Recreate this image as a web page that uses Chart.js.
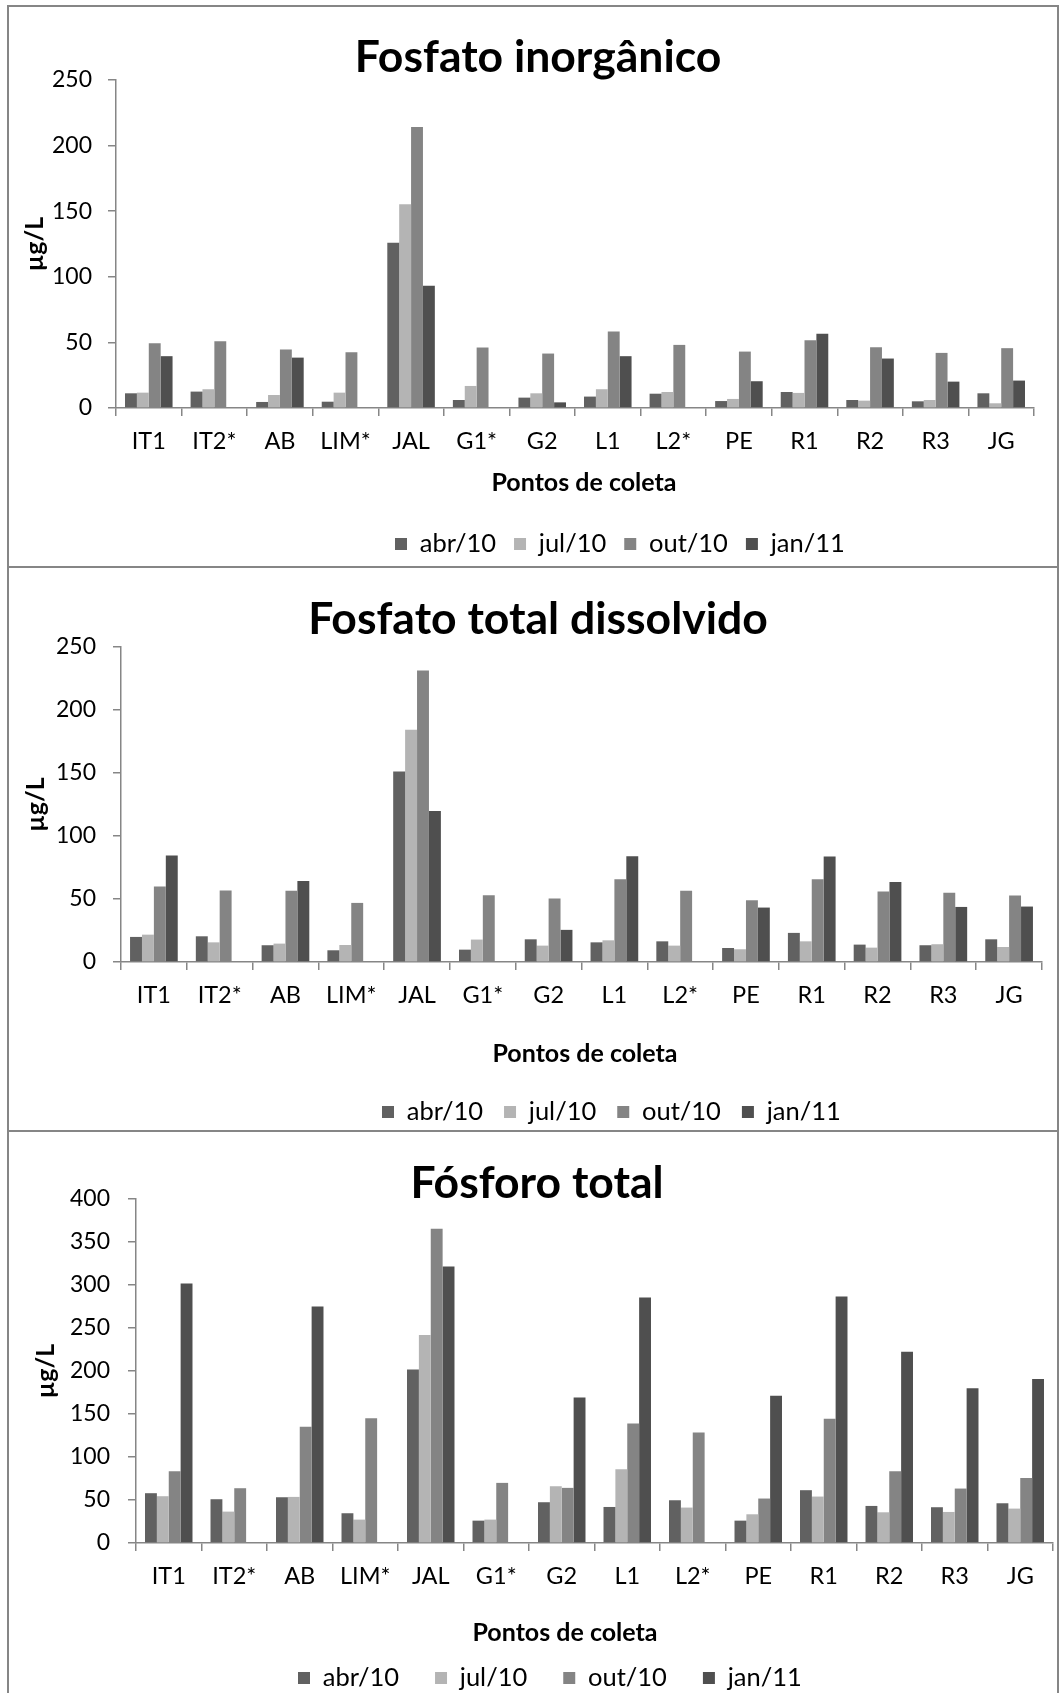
<!DOCTYPE html>
<html>
<head>
<meta charset="utf-8">
<script src="https://cdn.jsdelivr.net/npm/chart.js@4.4.1/dist/chart.umd.min.js"></script>
<style>
  html, body { margin: 0; padding: 0; background: #fff; }
  body { width: 1059px; height: 1693px; position: relative; overflow: hidden; }
  .painel { position: absolute; box-sizing: border-box; border: 2px solid #868686; background: #fff; }
  .painel canvas { position: absolute; left: 0; top: 0; }
</style>
</head>
<body>
<div class="painel" style="left:7px; top:5px; width:1052px; height:563px;">
  <canvas id="graf1" width="1048" height="559"></canvas>
</div>
<div class="painel" style="left:7px; top:566px; width:1052px; height:566px;">
  <canvas id="graf2" width="1048" height="562"></canvas>
</div>
<div class="painel" style="left:7px; top:1130px; width:1052px; height:575px;">
  <canvas id="graf3" width="1048" height="571"></canvas>
</div>
<script>
// Pontos de coleta e campanhas
const pontos = ['IT1', 'IT2*', 'AB', 'LIM*', 'JAL', 'G1*', 'G2', 'L1', 'L2*', 'PE', 'R1', 'R2', 'R3', 'JG'];
const campanhas = ['abr/10', 'jul/10', 'out/10', 'jan/11'];

// Fosfato inorgânico (µg/L)
const inorgAbr10 = [11.2, 12.5, 4.6, 4.8, 126.0, 6.1, 7.9, 8.7, 10.9, 5.3, 12.2, 6.1, 5.1, 11.2];
const inorgJul10 = [11.7, 14.3, 9.9, 11.7, 155.3, 16.8, 11.2, 14.3, 12.2, 6.9, 11.5, 5.6, 6.1, 3.6];
const inorgOut10 = [49.4, 50.9, 44.6, 42.5, 214.1, 46.1, 41.5, 58.3, 48.1, 43.0, 51.7, 46.3, 42.0, 45.6];
const inorgJan11 = [39.5, null, 38.4, null, 93.2, null, 4.3, 39.5, null, 20.4, 56.5, 37.7, 20.1, 20.9];

// Fosfato total dissolvido (µg/L)
const dissAbr10 = [19.9, 20.4, 13.3, 9.3, 151.1, 9.8, 18.0, 15.6, 16.4, 11.1, 23.1, 13.8, 13.3, 18.0];
const dissJul10 = [21.7, 15.6, 14.6, 13.5, 184.3, 17.8, 13.0, 17.2, 13.0, 10.1, 16.4, 11.4, 14.1, 11.9];
const dissOut10 = [59.9, 56.7, 56.5, 46.9, 231.4, 53.0, 50.4, 65.7, 56.5, 49.0, 65.7, 55.9, 54.9, 52.8];
const dissJan11 = [84.6, null, 64.2, null, 119.8, null, 25.5, 84.0, null, 43.2, 83.8, 63.4, 43.7, 44.0];

// Fósforo total (µg/L)
const ptAbr10 = [57.9, 50.9, 53.2, 34.6, 201.6, 26.0, 47.4, 41.9, 49.7, 26.0, 61.4, 43.1, 41.6, 46.2];
const ptJul10 = [54.4, 36.5, 53.6, 27.2, 241.9, 27.2, 66.0, 85.8, 41.2, 33.4, 54.0, 35.7, 36.1, 40.0];
const ptOut10 = [83.5, 63.7, 135.1, 145.2, 365.4, 69.9, 64.1, 139.0, 128.5, 51.7, 144.5, 83.5, 63.3, 75.7];
const ptJan11 = [301.7, null, 275.0, null, 321.6, null, 169.3, 285.4, null, 171.3, 286.6, 222.5, 179.8, 190.7];

const FONTE = "Lato, 'Open Sans', 'DejaVu Sans', sans-serif";
const CINZA_EIXO = '#868686';
const coresCampanha = ['#616161', '#b4b4b4', '#848484', '#4f4f4f'];

// Places the title, legend row and x-axis title at fixed spots inside each canvas
const posicionador = {
  id: 'posicionador',
  beforeDraw(chart, args, o) {
    const W = chart.width;
    const t = chart.titleBlock;
    if (t) {
      const lh = o.titleSize * 1.2;
      t.left = o.titleX - W / 2; t.right = o.titleX + W / 2;
      t.top = o.titleY - lh / 2; t.bottom = t.top + lh;
    }
    const lg = chart.legend;
    if (lg) {
      const pad = lg.options.labels.padding;
      const fs = lg.options.labels.font.size;
      const h = lg.height;
      lg.left = o.legendX - pad; lg.right = lg.left + W;
      lg.top = o.legendY - pad - fs / 2; lg.bottom = lg.top + h;
    }
    const xs = chart.scales.x;
    if (xs && !xs.__deslocado) {
      const original = xs.drawTitle;
      xs.drawTitle = function () {
        const dx = o.xTitleX - (this.left + this.right) / 2;
        this.left += dx; this.right += dx;
        original.call(this);
        this.left -= dx; this.right -= dx;
      };
      xs.__deslocado = true;
    }
  }
};

function desenharPainel(id, titulo, series, yMax, p) {
  const canvas = document.getElementById(id);
  const W = canvas.width, H = canvas.height;
  const tickSize = 23.5;
  const axisTitleSize = p.axisTitleSize;
  const legendSize = p.legendSize;
  const legendH = legendSize + p.legendPad + 10;
  const xAxisH = H - p.plotB - legendH;
  const axisLH = axisTitleSize * 1.2;
  const xTitlePB = H - legendH - axisLH / 2 - p.xTitleY;
  const xTickPad = p.xLabelY - p.plotB - 8 - (tickSize * 1.2) / 2;
  const titleLH = p.titleSize * 1.2;

  new Chart(canvas, {
    type: 'bar',
    data: {
      labels: pontos,
      datasets: campanhas.map((c, i) => ({
        label: c,
        data: series[i],
        backgroundColor: coresCampanha[i],
        borderWidth: 0,
        categoryPercentage: 0.725,
        barPercentage: 1.0
      }))
    },
    options: {
      responsive: false,
      animation: false,
      events: [],
      layout: { padding: { left: 0, right: W - p.plotR, top: p.plotT - titleLH, bottom: 0 } },
      plugins: {
        title: {
          display: true, text: titulo, color: '#000', padding: 0,
          font: { family: FONTE, size: p.titleSize, weight: 'bold' }
        },
        legend: {
          display: true, position: 'bottom', align: 'start',
          labels: {
            boxWidth: 12, boxHeight: 12, padding: p.legendPad, color: '#000',
            font: { family: FONTE, size: legendSize }
          }
        },
        tooltip: { enabled: false },
        posicionador: {
          titleX: p.titleX, titleY: p.titleY, titleSize: p.titleSize,
          legendX: p.legendX, legendY: p.legendY, xTitleX: p.xTitleX
        }
      },
      scales: {
        x: {
          grid: { display: true, drawOnChartArea: false, drawTicks: true, tickLength: 8, color: CINZA_EIXO, lineWidth: 1.5 },
          border: { display: true, color: CINZA_EIXO, width: 1.5 },
          ticks: { font: { family: FONTE, size: tickSize }, color: '#000', padding: xTickPad, maxRotation: 0, autoSkip: false },
          title: {
            display: true, text: 'Pontos de coleta', color: '#000',
            font: { family: FONTE, size: axisTitleSize, weight: 'bold' },
            padding: { top: 0, bottom: xTitlePB }
          },
          afterFit(s) { s.height = xAxisH; }
        },
        y: {
          min: 0, max: yMax,
          grid: { display: true, drawOnChartArea: false, drawTicks: true, tickLength: 8, color: CINZA_EIXO, lineWidth: 1.5 },
          border: { display: true, color: CINZA_EIXO, width: 1.5 },
          ticks: { stepSize: 50, font: { family: FONTE, size: 23 }, color: '#000', padding: p.yTickPad },
          title: {
            display: true, text: 'µg/L', color: '#000',
            font: { family: FONTE, size: axisTitleSize, weight: 'bold' },
            padding: { top: p.yTitleX - axisLH / 2, bottom: 0 }
          },
          afterFit(s) { s.width = p.plotL; }
        }
      }
    },
    plugins: [posicionador]
  });
}

desenharPainel('graf1', 'Fosfato inorgânico',
  [inorgAbr10, inorgJul10, inorgOut10, inorgJan11], 250, {
    plotL: 107, plotR: 1025, plotT: 73, plotB: 401,
    titleX: 529, titleY: 51, titleSize: 44.5,
    xLabelY: 434, xTitleX: 575, xTitleY: 476,
    legendX: 386, legendY: 537, legendPad: 18, legendSize: 25.5,
    yTitleX: 26, yTickPad: 16, axisTitleSize: 25
  });

desenharPainel('graf2', 'Fosfato total dissolvido',
  [dissAbr10, dissJul10, dissOut10, dissJan11], 250, {
    plotL: 112, plotR: 1033, plotT: 79, plotB: 394,
    titleX: 529, titleY: 52, titleSize: 44.5,
    xLabelY: 427, xTitleX: 576, xTitleY: 486,
    legendX: 373, legendY: 544, legendPad: 21, legendSize: 25.5,
    yTitleX: 27, yTickPad: 17, axisTitleSize: 25
  });

desenharPainel('graf3', 'Fósforo total',
  [ptAbr10, ptJul10, ptOut10, ptJan11], 400, {
    plotL: 127, plotR: 1044, plotT: 67, plotB: 411,
    titleX: 528, titleY: 52, titleSize: 44.5,
    xLabelY: 444, xTitleX: 556, xTitleY: 501,
    legendX: 289, legendY: 546, legendPad: 36, legendSize: 25.5,
    yTitleX: 37, yTickPad: 18, axisTitleSize: 25
  });
</script>
</body>
</html>
